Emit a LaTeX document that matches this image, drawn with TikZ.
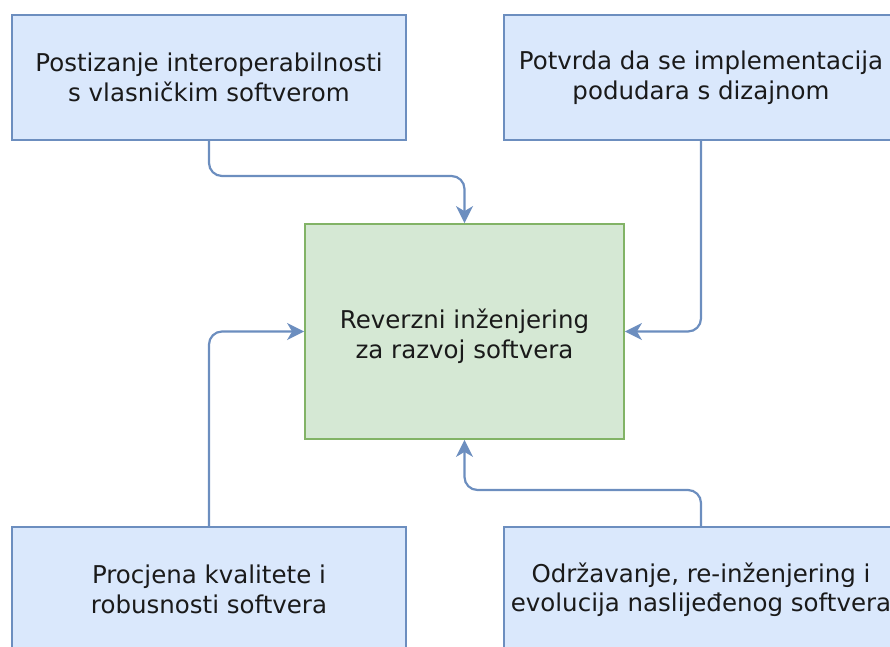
\documentclass[tikz,border=0pt]{standalone}
\usepackage{fontspec}
\setmainfont{DejaVu Sans}
\usetikzlibrary{arrows.meta}
\definecolor{bluefill}{HTML}{DAE8FC}
\definecolor{bluedraw}{HTML}{6C8EBF}
\definecolor{greenfill}{HTML}{D5E8D4}
\definecolor{greendraw}{HTML}{82B366}
\definecolor{txt}{HTML}{1A1A1A}
\begin{document}
\begin{tikzpicture}[x=1pt,y=-1pt,
  boxfont/.style={font=\fontsize{24.5}{29.5}\selectfont,text=txt},
  bluebox/.style={draw=bluedraw,fill=bluefill,line width=1.8pt,minimum width=394pt,minimum height=125pt,inner sep=0pt,align=center,boxfont},
  greenbox/.style={draw=greendraw,fill=greenfill,line width=1.8pt,minimum width=319pt,minimum height=215pt,inner sep=0pt},
  plaintext/.style={align=center,inner sep=0pt,boxfont},
  conn/.style={draw=bluedraw,line width=2.2pt,rounded corners=13pt,-{Stealth[length=17pt,width=17pt,inset=5pt]}}]
\useasboundingbox (0,0) rectangle (890,646);
\clip (0,0) rectangle (890,646);
\node[bluebox] (tl) at (209,77.5) {Postizanje interoperabilnosti\\s vlasničkim softverom};
\node[bluebox] (tr) at (701,77.5) {Potvrda da se implementacija\\podudara s dizajnom};
\node[greenbox] (c) at (464.5,331.5) {};
\node[plaintext] (ctext) at (464.5,336) {Reverzni inženjering\\za razvoj softvera};
\node[bluebox] (bl) at (209,589.5) {Procjena kvalitete i\\robusnosti softvera};
\node[bluebox] (br) at (701,589.5) {Održavanje, re-inženjering i\\evolucija naslijeđenog softvera};
\coordinate (j1) at (0,176);
\coordinate (j4) at (0,490);
\draw[conn] (tl.south) -- (tl.south |- j1) -- (c.north |- j1) -- (c.north);
\draw[conn] (tr.south) -- (tr.south |- c.east) -- (c.east);
\draw[conn] (bl.north) -- (bl.north |- c.west) -- (c.west);
\draw[conn] (br.north) -- (br.north |- j4) -- (c.south |- j4) -- (c.south);
\end{tikzpicture}
\end{document}
